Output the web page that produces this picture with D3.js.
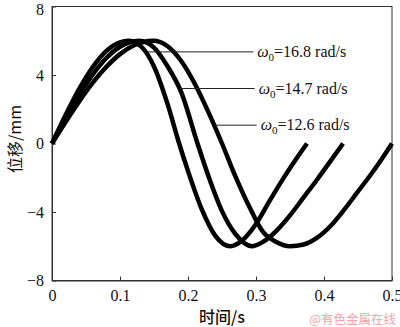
<!DOCTYPE html>
<html>
<head>
<meta charset="utf-8">
<script src="https://cdn.jsdelivr.net/npm/d3@7"></script>
<style>
  html, body { margin: 0; padding: 0; background: #fff; }
  svg { display: block; }
</style>
</head>
<body>
<svg id="chart" width="400" height="327"></svg>
<script>
// Displacement response for three natural frequencies (time in s, displacement in mm)
const omegaValues = ["16.8", "14.7", "12.6"];

const timeA = [0, 0.02, 0.04, 0.06, 0.08, 0.10, 0.112, 0.13, 0.15, 0.17, 0.187, 0.20, 0.22, 0.24, 0.262, 0.28, 0.30, 0.32, 0.34, 0.36, 0.375];
const dispA = [0, 1.66, 3.19, 4.47, 5.41, 5.91, 6.0, 5.7, 4.5, 2.3, 0, -1.61, -3.82, -5.38, -6.0, -5.65, -4.7, -3.35, -2.05, -0.85, 0];

const timeB = [0, 0.02, 0.04, 0.06, 0.08, 0.10, 0.128, 0.15, 0.17, 0.19, 0.214, 0.23, 0.25, 0.27, 0.294, 0.31, 0.33, 0.35, 0.37, 0.39, 0.41, 0.428];
const dispB = [0, 1.46, 2.83, 4.03, 4.99, 5.65, 6.0, 5.6, 4.5, 3.0, 0, -1.9, -3.95, -5.3, -6.0, -5.75, -5.1, -4.2, -3.15, -2.1, -1.0, 0];

const timeC = [0, 0.02, 0.04, 0.06, 0.08, 0.10, 0.12, 0.149, 0.17, 0.19, 0.21, 0.23, 0.25, 0.27, 0.29, 0.31, 0.33, 0.35, 0.37, 0.39, 0.41, 0.43, 0.45, 0.47, 0.485, 0.50];
const dispC = [0, 1.26, 2.46, 3.55, 4.48, 5.22, 5.72, 6.0, 5.68, 4.82, 3.49, 1.83, 0, -1.95, -3.68, -5.15, -5.75, -6.0, -5.9, -5.5, -4.8, -3.85, -2.8, -1.75, -0.9, 0];

// Leader lines: start time on the curve, end time, and displacement level
const leaderStart = [0.140, 0.188, 0.240];
const leaderEnd = [0.296, 0.298, 0.301];
const leaderLevel = [5.35, 3.21, 1.07];

const xTicks = [0, 0.1, 0.2, 0.3, 0.4, 0.5];
const yTicks = [-8, -4, 0, 4, 8];

const xTitle = "时间/s";
const yTitle = "位移/mm";
const credit = "@有色金属在线";

const svg = d3.select("#chart");
const W = 400, H = 327;
const margin = { left: 52, right: 8, top: 6.5, bottom: 46.5 };

const x = d3.scaleLinear().domain([0, 0.5]).range([margin.left, W - margin.right]);
const y = d3.scaleLinear().domain([-8, 8]).range([H - margin.bottom, margin.top]);

const serif = "'Liberation Serif', 'Times New Roman', serif";
const cjk = "'Noto Sans CJK SC', sans-serif";

// Plot frame
svg.append("rect")
  .attr("x", x(0)).attr("y", y(8))
  .attr("width", x(0.5) - x(0)).attr("height", y(-8) - y(8))
  .attr("fill", "none").attr("stroke", "#333").attr("stroke-width", 1);

const fmtY = d => d < 0 ? "\u2212" + Math.abs(d) : String(d);
const fmtX = d => d === 0 ? "0" : d3.format(".1f")(d);

// Axes with inward ticks
const xAxis = svg.append("g")
  .attr("transform", `translate(0,${y(-8)})`)
  .call(d3.axisBottom(x).tickValues(xTicks).tickFormat(fmtX).tickSizeInner(-4).tickSizeOuter(0).tickPadding(9));
const yAxis = svg.append("g")
  .attr("transform", `translate(${x(0)},0)`)
  .call(d3.axisLeft(y).tickValues(yTicks).tickFormat(fmtY).tickSizeInner(-4).tickSizeOuter(0).tickPadding(8));

[xAxis, yAxis].forEach(g => {
  g.attr("font-family", null);
  g.select(".domain").attr("stroke", "#333");
  g.selectAll(".tick line").attr("stroke", "#333");
  g.selectAll(".tick text")
    .attr("fill", "#111")
    .attr("font-family", serif)
    .attr("font-size", 16);
});
// keep the top label inside the page
yAxis.selectAll(".tick text").filter(d => d === 8).attr("dy", "0.5em");

// Curves
const line = d3.line()
  .x(d => x(d[0]))
  .y(d => y(d[1]))
  .curve(d3.curveMonotoneX);

const series = [
  d3.zip(timeA, dispA),
  d3.zip(timeB, dispB),
  d3.zip(timeC, dispC)
];

svg.append("g").selectAll("path")
  .data(series)
  .join("path")
  .attr("d", line)
  .attr("fill", "none")
  .attr("stroke", "#000")
  .attr("stroke-width", 4.5)
  .attr("stroke-linejoin", "round");

// Leader lines and labels
const ann = svg.append("g");
omegaValues.forEach((w, i) => {
  ann.append("line")
    .attr("x1", x(leaderStart[i])).attr("x2", x(leaderEnd[i]))
    .attr("y1", y(leaderLevel[i])).attr("y2", y(leaderLevel[i]))
    .attr("stroke", "#222").attr("stroke-width", 1);
  const t = ann.append("text")
    .attr("x", x(leaderEnd[i]) + 4)
    .attr("y", y(leaderLevel[i]) + 5)
    .attr("fill", "#111")
    .attr("font-family", serif)
    .attr("font-size", 16);
  t.append("tspan").attr("font-style", "italic").text("ω");
  t.append("tspan").attr("dy", 4).attr("font-size", 11).text("0");
  t.append("tspan").attr("dy", -4).text("=" + w + " rad/s");
});

// Axis titles
svg.append("text")
  .attr("x", 222).attr("y", 323)
  .attr("text-anchor", "middle")
  .attr("fill", "#111")
  .attr("font-family", cjk)
  .attr("font-size", 16)
  .attr("font-weight", 500)
  .text(xTitle);

svg.append("text")
  .attr("transform", `translate(21,139) rotate(-90)`)
  .attr("text-anchor", "middle")
  .attr("fill", "#111")
  .attr("font-family", cjk)
  .attr("font-size", 16)
  .text(yTitle);

// Credit line
svg.append("text")
  .attr("x", 396).attr("y", 324)
  .attr("text-anchor", "end")
  .attr("fill", "#f0a4a8")
  .attr("font-family", cjk)
  .attr("font-size", 12.5)
  .text(credit);
</script>
</body>
</html>
